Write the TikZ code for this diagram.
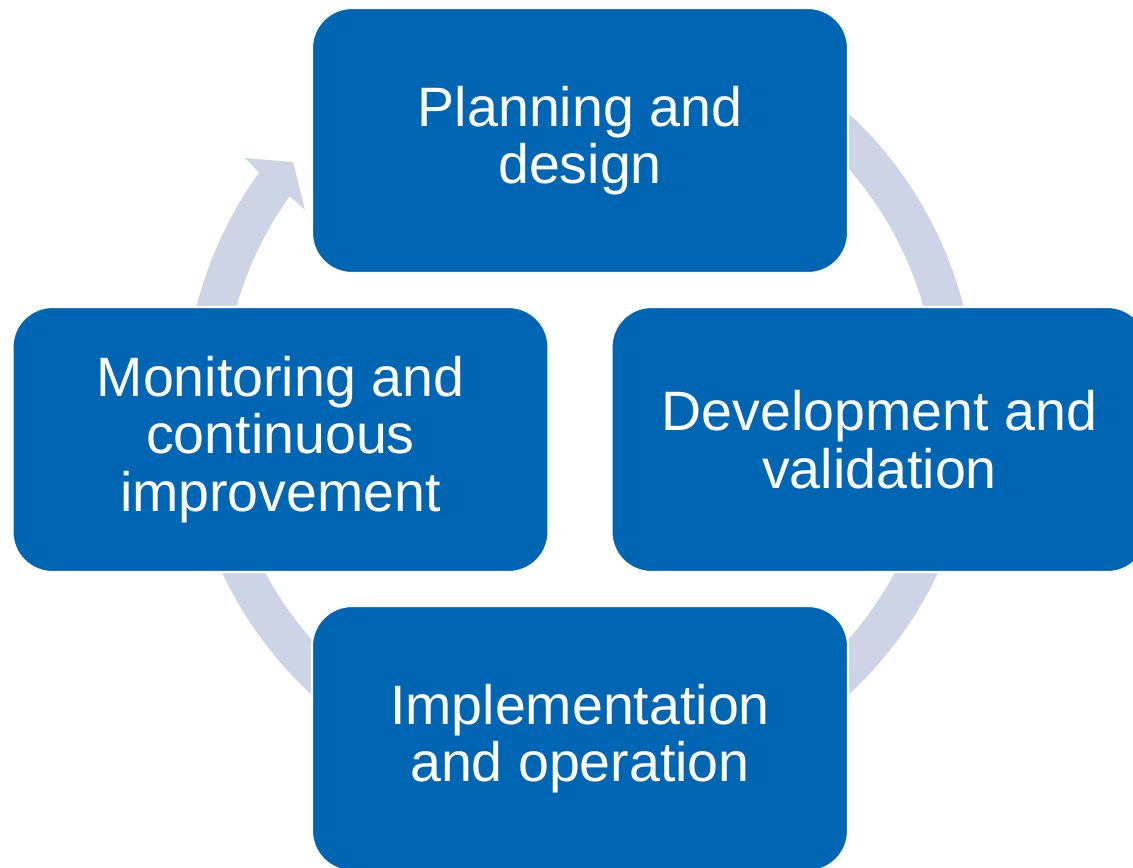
\documentclass[tikz,border=0pt]{standalone}
\usepackage{fontspec}
\setmainfont{Liberation Sans}
\usepackage{xcolor}
\usepackage{tikz}
\usetikzlibrary{positioning,calc}

\definecolor{boxblue}{RGB}{0,102,179}
\definecolor{ringgray}{RGB}{204,212,230}

\tikzset{
    stage/.style={draw=white, line width=1.2pt, fill=boxblue, text=white,
        rounded corners=0.8cm, minimum width=10.72cm, minimum height=5.3cm,
        align=center, font=\fontsize{31.6}{32.8}\selectfont},
    ring/.style={fill=ringgray}
}

\begin{document}
\begin{tikzpicture}
    \useasboundingbox (0,0) rectangle (22.66,-17.34);
    \clip (0,0) rectangle (22.66,-17.34);

    % Cycle ring with arrow head
    \coordinate (C) at (11.6,-8.08);
    \coordinate (W1) at (4.9,-3.16);
    \coordinate (tip) at (5.86,-3.24);
    \coordinate (W2) at (6.1,-4.2);
    \fill[ring] ($(C)+(80:7.914)$) arc[start angle=80, end angle=-215.8, radius=7.914]
        -- (W1) -- (tip) -- (W2) -- ($(C)+(-215.6:7.14)$)
        arc[start angle=-215.6, end angle=80, radius=7.14] -- cycle;

    % Stages
    \node[stage] (plan)  at (11.6,-2.81)  {Planning and\\design};
    \node[stage] (devel) at (17.59,-8.79) {Development and\\validation};
    \node[stage] (impl)  at (11.6,-14.77) {Implementation\\and operation};
    \node[stage] (monit) at (5.61,-8.79)  {Monitoring and\\continuous\\improvement};
\end{tikzpicture}
\end{document}
